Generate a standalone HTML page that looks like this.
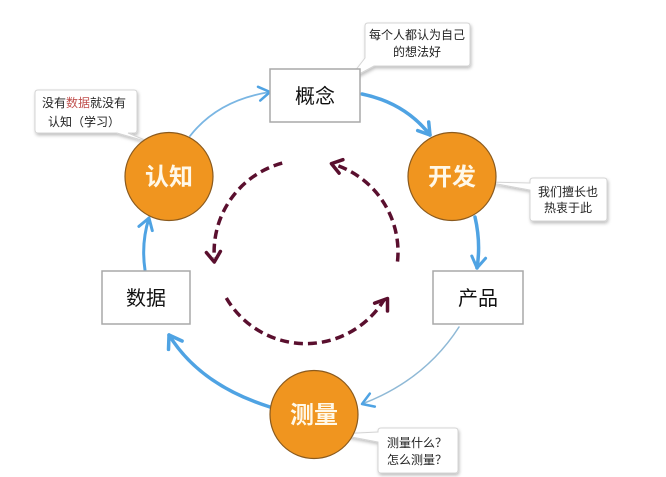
<!DOCTYPE html>
<html><head><meta charset="utf-8">
<style>
html,body{margin:0;padding:0;background:#fff;}
svg{display:block;}
.cj{font-family:"Liberation Sans","Noto Sans CJK SC",sans-serif;}
</style></head>
<body>
<svg width="666" height="477" viewBox="0 0 666 477" xmlns="http://www.w3.org/2000/svg">
<defs>
<filter id="sh" x="-20%" y="-20%" width="140%" height="160%">
<feDropShadow dx="1" dy="2" stdDeviation="1.5" flood-color="#000" flood-opacity="0.25"/>
</filter>
</defs>
<rect width="666" height="477" fill="#fff"/>

<!-- callouts -->
<g filter="url(#sh)" fill="#fff" stroke="#d4d4d4" stroke-width="1">
<path d="M38,90 H134 Q137,90 137,93 V130 Q137,133 134,133 H128 L152,143 L117,133 H38 Q35,133 35,130 V93 Q35,90 38,90 Z"/>
<path d="M368,23 H467 Q470,23 470,26 V63 Q470,66 467,66 H374 L348,80 L365,58 V26 Q365,23 368,23 Z"/>
<path d="M533,178 H604 Q607,178 607,181 V218 Q607,221 604,221 H533 Q530,221 530,218 V190 L486,182 L530,183 V181 Q530,178 533,178 Z"/>
<path d="M381,428 H455 Q458,428 458,431 V470 Q458,473 455,473 H381 Q378,473 378,470 V442 L336,434 L378,432 V431 Q378,428 381,428 Z"/>
</g>
<g class="cj" font-size="12" fill="#222">
<text x="42" y="107">没有<tspan fill="#c0504d">数据</tspan>就没有</text>
<text x="48" y="126">认知（学习）</text>
<text x="417" y="39" text-anchor="middle">每个人都认为自己</text>
<text x="417" y="56" text-anchor="middle">的想法好</text>
<text x="568" y="196" text-anchor="middle">我们擅长也</text>
<text x="568" y="212" text-anchor="middle">热衷于此</text>
<text x="417" y="447" text-anchor="middle">测量什么？</text>
<text x="417" y="464" text-anchor="middle">怎么测量？</text>
</g>

<!-- blue arrows -->
<g fill="none" stroke="#4fa3e3" stroke-linecap="round" stroke-linejoin="round">
<path d="M190,136 Q218,100 270,92" stroke-width="1.8" stroke="#7ab6e3"/>
<path d="M260.2,100.6 L270,92 L258,86.8" stroke-width="2.5"/>
<path d="M362,94 Q405,103 430,135" stroke-width="3.5"/>
<path d="M417.7,130.6 L430,135 L428.7,122" stroke-width="3.5"/>
<path d="M475,217 Q481,243 477,268" stroke-width="3.5"/>
<path d="M485.6,258.2 L477,268 L471.8,256" stroke-width="3"/>
<path d="M459,327 Q425,380 362,404" stroke-width="1.5" stroke="#8fb9d6"/>
<path d="M374.8,406.6 L362,404 L369.8,393.6" stroke-width="2.5"/>
<path d="M270,407 Q200,385 169,335" stroke-width="3.5"/>
<path d="M182.1,341 L169,335 L168.5,349.4" stroke-width="3.5"/>
<path d="M145,270 Q141,243 149,218" stroke-width="3"/>
<path d="M152.3,230.6 L149,218 L138.9,226.4" stroke-width="3"/>
</g>

<!-- dashed arcs -->
<g fill="none" stroke="#5a0f2e" stroke-width="3.5">
<path d="M282.2,163.1 A92,92 0 0 0 214.3,258" stroke-dasharray="9,5"/>
<path d="M397.5,261.6 A92,92 0 0 0 333,164" stroke-dasharray="9,5"/>
<path d="M226.3,298 A92,92 0 0 0 384,300" stroke-dasharray="9,5"/>
<g stroke-linecap="round" stroke-linejoin="round">
<path d="M220.4,251.4 L214.3,262 L206.4,252.6"/>
<path d="M342.9,159.7 L331.4,163.6 L339.1,173.1"/>
<path d="M387.5,311 L387.5,298.5 L374.6,303.2"/>
</g>
</g>

<!-- boxes -->
<g fill="#fff" stroke="#a8a8a8" stroke-width="1.5">
<rect x="270" y="69" width="90" height="53"/>
<rect x="102" y="271" width="88" height="53"/>
<rect x="433" y="271" width="90" height="53"/>
</g>
<g class="cj" font-size="20" fill="#111" text-anchor="middle">
<text x="315" y="103">概念</text>
<text x="146" y="305">数据</text>
<text x="478" y="305">产品</text>
</g>

<!-- circles -->
<g fill="#f0951f" stroke="#8a5a1e" stroke-width="1.2">
<circle cx="169" cy="176.5" r="44"/>
<circle cx="452" cy="176.5" r="44"/>
<circle cx="314" cy="414.5" r="44"/>
</g>
<g class="cj" font-size="24" font-weight="bold" fill="#fff8e8" text-anchor="middle">
<text x="169" y="185">认知</text>
<text x="452" y="185">开发</text>
<text x="314" y="423">测量</text>
</g>
</svg>
</body></html>
